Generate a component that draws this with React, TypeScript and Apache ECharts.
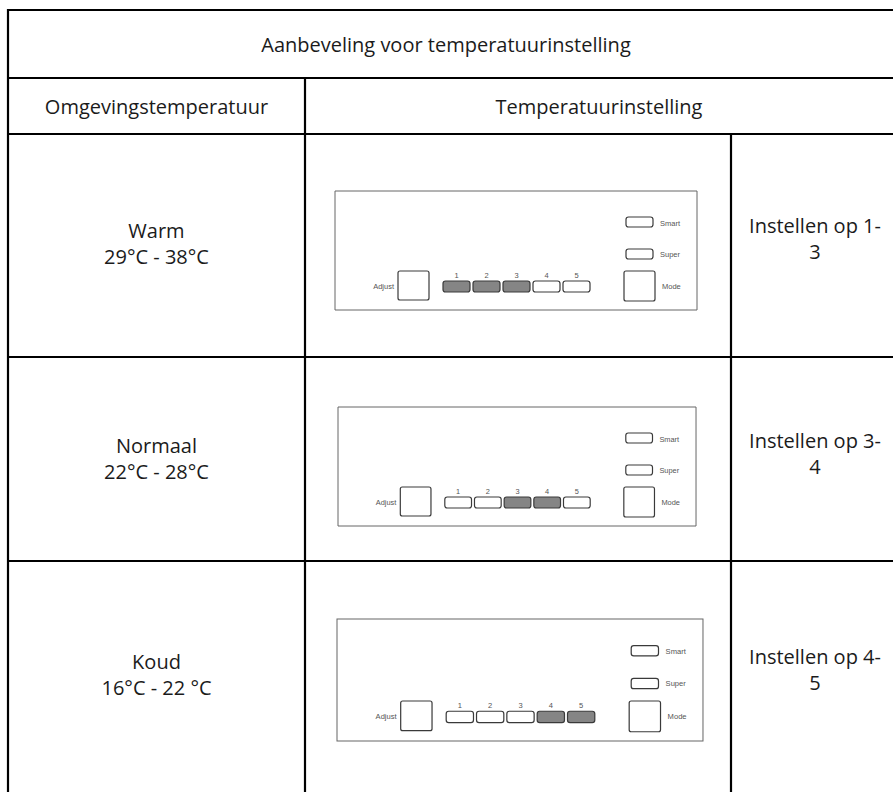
import React, { useEffect, useRef } from "react";
import * as echarts from "echarts";

// ---- data ----
const TITLE = "Aanbeveling voor temperatuurinstelling";
const HEADERS = ["Omgevingstemperatuur", "Temperatuurinstelling"];
const CLIMATES = ["Warm", "Normaal", "Koud"];
const RANGES = ["29°C - 38°C", "22°C - 28°C", "16°C - 22 °C"];
const SETTINGS = ["Instellen op 1-\n3", "Instellen op 3-\n4", "Instellen op 4-\n5"];
const ACTIVE_LEVELS = [[1, 2, 3], [3, 4], [4, 5]];
const LEVELS = ["1", "2", "3", "4", "5"];
const PANEL_LABELS = { adjust: "Adjust", smart: "Smart", super: "Super", mode: "Mode" };

// ---- layout ----
const W = 893;
const H = 792;
const LEFT = 8;
const TOP = 10;
const RIGHT = 900;
const BOTTOM = 800;
const Y_HEAD = 78;
const Y_SUB = 134;
const ROW_BOTTOMS = [357, 561, 800];
const X_COL1 = 305;
const X_COL2 = 731;
const PANELS = [
  { x: 335, y: 191, w: 362, h: 119 },
  { x: 338, y: 407, w: 358, h: 119 },
  { x: 337, y: 619, w: 366, h: 122 },
];
const FONT = "'Open Sans', sans-serif";
const TEXT_COLOR = "#1b1b1b";
const FS = 20;

function line(x1: number, y1: number, x2: number, y2: number, w = 2.2) {
  return {
    type: "line",
    shape: { x1, y1, x2, y2 },
    style: { stroke: "#000", lineWidth: w },
    silent: true,
  };
}

function txt(x: number, y: number, text: string, size = FS, align = "center", color = TEXT_COLOR, lh = 26) {
  return {
    type: "text",
    x,
    y,
    style: {
      text,
      fill: color,
      fontSize: size,
      fontFamily: FONT,
      align,
      verticalAlign: "middle",
      lineHeight: lh,
    },
    silent: true,
  };
}

function panel(p: { x: number; y: number; w: number; h: number }, active: number[]) {
  const sx = p.w / 362;
  const sy = p.h / 119;
  const children: any[] = [];
  const stroke = "#3a3a3a";
  const small = (x: number, y: number, t: string, align = "left") => ({
    type: "text",
    x,
    y,
    style: {
      text: t,
      fill: "#555",
      fontSize: 7.5,
      fontFamily: "'Liberation Sans', Arial, sans-serif",
      align,
      verticalAlign: "middle",
    },
    silent: true,
  });
  children.push({
    type: "rect",
    shape: { x: 0, y: 0, width: 362, height: 119 },
    style: { fill: "#fff", stroke: "#666", lineWidth: 1 },
    silent: true,
  });
  // Adjust box
  children.push({
    type: "rect",
    shape: { x: 63, y: 80, width: 31, height: 29, r: 2 },
    style: { fill: "#fff", stroke, lineWidth: 1.2 },
    silent: true,
  });
  children.push(small(59, 95, PANEL_LABELS.adjust, "right"));
  // Level buttons
  LEVELS.forEach((lv, i) => {
    const on = active.indexOf(i + 1) >= 0;
    children.push({
      type: "rect",
      shape: { x: 108 + 30 * i, y: 90, width: 27, height: 11, r: 2.5 },
      style: { fill: on ? "#858585" : "#fff", stroke, lineWidth: 1.2 },
      silent: true,
    });
    children.push(small(108 + 30 * i + 13.5, 84, lv, "center"));
  });
  // Smart / Super
  children.push({
    type: "rect",
    shape: { x: 291, y: 26, width: 27, height: 10, r: 2.5 },
    style: { fill: "#fff", stroke, lineWidth: 1.2 },
    silent: true,
  });
  children.push(small(325, 32, PANEL_LABELS.smart));
  children.push({
    type: "rect",
    shape: { x: 291, y: 58, width: 27, height: 10, r: 2.5 },
    style: { fill: "#fff", stroke, lineWidth: 1.2 },
    silent: true,
  });
  children.push(small(325, 63, PANEL_LABELS.super));
  // Mode box
  children.push({
    type: "rect",
    shape: { x: 289, y: 80, width: 31, height: 30, r: 2 },
    style: { fill: "#fff", stroke, lineWidth: 1.2 },
    silent: true,
  });
  children.push(small(327, 95, PANEL_LABELS.mode));
  return { type: "group", x: p.x, y: p.y, scaleX: sx, scaleY: sy, children };
}

export default function App() {
  const ref = useRef<HTMLDivElement>(null);
  useEffect(() => {
    if (!ref.current) return;
    const chart = echarts.init(ref.current, null, { renderer: "svg" });
    const g: any[] = [];
    g.push({
      type: "rect",
      shape: { x: 0, y: 0, width: W, height: H },
      style: { fill: "#fff" },
      silent: true,
    });
    // grid lines
    g.push(line(LEFT - 1, TOP, RIGHT, TOP));
    g.push(line(LEFT, TOP - 1, LEFT, BOTTOM));
    g.push(line(LEFT, Y_HEAD, RIGHT, Y_HEAD));
    g.push(line(LEFT, Y_SUB, RIGHT, Y_SUB));
    ROW_BOTTOMS.slice(0, 2).forEach((y) => g.push(line(LEFT, y, RIGHT, y)));
    g.push(line(X_COL1, Y_HEAD, X_COL1, BOTTOM));
    g.push(line(X_COL2, Y_SUB, X_COL2, BOTTOM));

    // header texts
    g.push(txt(446, (TOP + Y_HEAD) / 2, TITLE));
    g.push(txt((LEFT + X_COL1) / 2, (Y_HEAD + Y_SUB) / 2, HEADERS[0]));
    g.push(txt(599, (Y_HEAD + Y_SUB) / 2, HEADERS[1]));

    // rows
    const rowCenters = [243, 458, 674];
    CLIMATES.forEach((c, i) => {
      const cy = rowCenters[i];
      g.push(txt((LEFT + X_COL1) / 2, cy, c + "\n" + RANGES[i]));
      g.push(txt(815, cy - 5, SETTINGS[i]));
      g.push(panel(PANELS[i], ACTIVE_LEVELS[i]));
    });

    chart.setOption({ animation: false, graphic: g });
    return () => chart.dispose();
  }, []);
  return (
    <div
      ref={ref}
      style={{ position: "absolute", left: 0, top: 0, width: W, height: H }}
    />
  );
}
